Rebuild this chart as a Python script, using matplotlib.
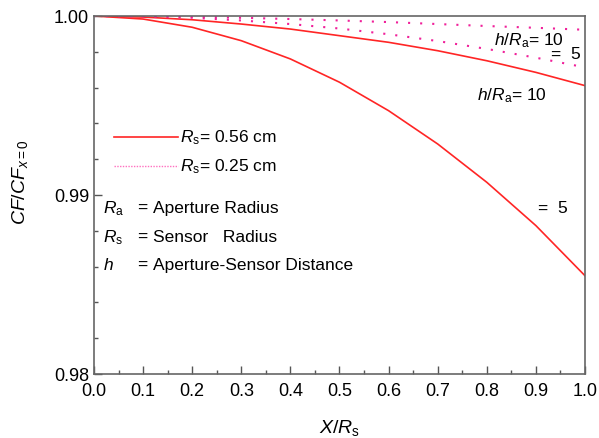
import numpy as np
import matplotlib
matplotlib.use('Agg')
import matplotlib.pyplot as plt
from matplotlib.ticker import MultipleLocator

plt.rcParams['font.family'] = 'Liberation Sans'
plt.rcParams['mathtext.fontset'] = 'custom'
plt.rcParams['mathtext.rm'] = 'Liberation Sans'
plt.rcParams['mathtext.it'] = 'Liberation Sans:italic'

x = [0.0, 0.1, 0.2, 0.3, 0.4, 0.5, 0.6, 0.7, 0.8, 0.9, 1.0]
# Rs = 0.56 cm (solid)
solid_h10 = [1.0, 0.99994, 0.99979, 0.99955, 0.99927, 0.99890, 0.99853, 0.99806, 0.99750, 0.99685, 0.99611]
solid_h5 = [1.0, 0.99983, 0.99937, 0.99862, 0.99760, 0.99630, 0.99471, 0.99285, 0.99071, 0.98829, 0.98549]
# Rs = 0.25 cm (dotted)
dot_h10 = [1.0, 0.99999, 0.99996, 0.99990, 0.99983, 0.99975, 0.99966, 0.99955, 0.99944, 0.99934, 0.99923]
dot_h5 = [1.0, 0.99998, 0.99990, 0.99975, 0.99955, 0.99930, 0.99898, 0.99860, 0.99816, 0.99767, 0.99713]

red = '#ff2525'
pink = '#f0209a'

fig = plt.figure(figsize=(5.99, 4.39), dpi=100)
ax = fig.add_axes([0.1569, 0.1458, 0.8197, 0.8155])

ax.plot(x, solid_h10, color=red, lw=1.2)
ax.plot(x, solid_h5, color=red, lw=1.2)
ax.plot(x, dot_h10, color=pink, lw=1.5, linestyle=(0, (1, 4.8)))
ax.plot(x, dot_h5, color=pink, lw=1.5, linestyle=(0, (1, 4.8)))

ax.set_xlim(0, 1.0)
ax.set_ylim(0.98, 1.0)
ax.xaxis.set_major_locator(MultipleLocator(0.1))
ax.xaxis.set_minor_locator(MultipleLocator(0.05))
ax.yaxis.set_major_locator(MultipleLocator(0.01))
ax.yaxis.set_minor_locator(MultipleLocator(0.002))
ax.xaxis.set_major_formatter(plt.FuncFormatter(lambda v, p: '%.1f' % v))
ax.yaxis.set_major_formatter(plt.FuncFormatter(lambda v, p: '%.2f' % v))
ax.tick_params(which='both', direction='in', colors='#555555', labelcolor='black',
               labelsize=13, top=False, right=False)
ax.tick_params(which='major', length=6, width=1)
ax.tick_params(which='minor', length=3, width=1)
ax.tick_params(axis='x', pad=6)
for s in ax.spines.values():
    s.set_color('#666666')
    s.set_linewidth(1.2)

fig.text(20 / 599, 0.585, r'$\mathit{CF/CF}_{\mathit{x=0}}$', rotation=90,
         ha='center', va='center', fontsize=14)
ax.set_xlabel(r'$\mathit{X/R}_{\mathrm{s}}$', fontsize=14)
ax.xaxis.set_label_coords(0.5, -0.12)

# legend drawn by hand
fs = 12.5
ax.plot([0.041, 0.171], [0.99324, 0.99324], color=red, lw=1.2)
ax.plot([0.041, 0.171], [0.99162, 0.99162], color='#ff70c0', lw=1.0, linestyle=(0, (1, 1)))
ax.text(0.176, 0.99324, r'$\mathit{R}_{\mathrm{s}}$= 0.56 cm', fontsize=fs, va='center')
ax.text(0.176, 0.99162, r'$\mathit{R}_{\mathrm{s}}$= 0.25 cm', fontsize=fs, va='center')

syms = [r'$\mathit{R}_{\mathrm{a}}$', r'$\mathit{R}_{\mathrm{s}}$', r'$\mathit{h}$']
descs = ['Aperture Radius', 'Sensor   Radius', 'Aperture-Sensor Distance']
ys = [0.98930, 0.98770, 0.98612]
for sym, desc, yy in zip(syms, descs, ys):
    ax.text(0.019, yy, sym, fontsize=fs, va='center')
    ax.text(0.088, yy, '=', fontsize=fs, va='center')
    ax.text(0.12, yy, desc, fontsize=fs, va='center')

ax.text(0.815, 0.99870, r'$\mathit{h/R}_{\mathrm{a}}$= 10', fontsize=fs, va='center')
ax.text(0.93, 0.99790, '=  5', fontsize=fs, va='center')
ax.text(0.78, 0.99560, r'$\mathit{h/R}_{\mathrm{a}}$= 10', fontsize=fs, va='center')
ax.text(0.905, 0.98932, '=  5', fontsize=fs, va='center')

fig.savefig('out.png', dpi=100)
